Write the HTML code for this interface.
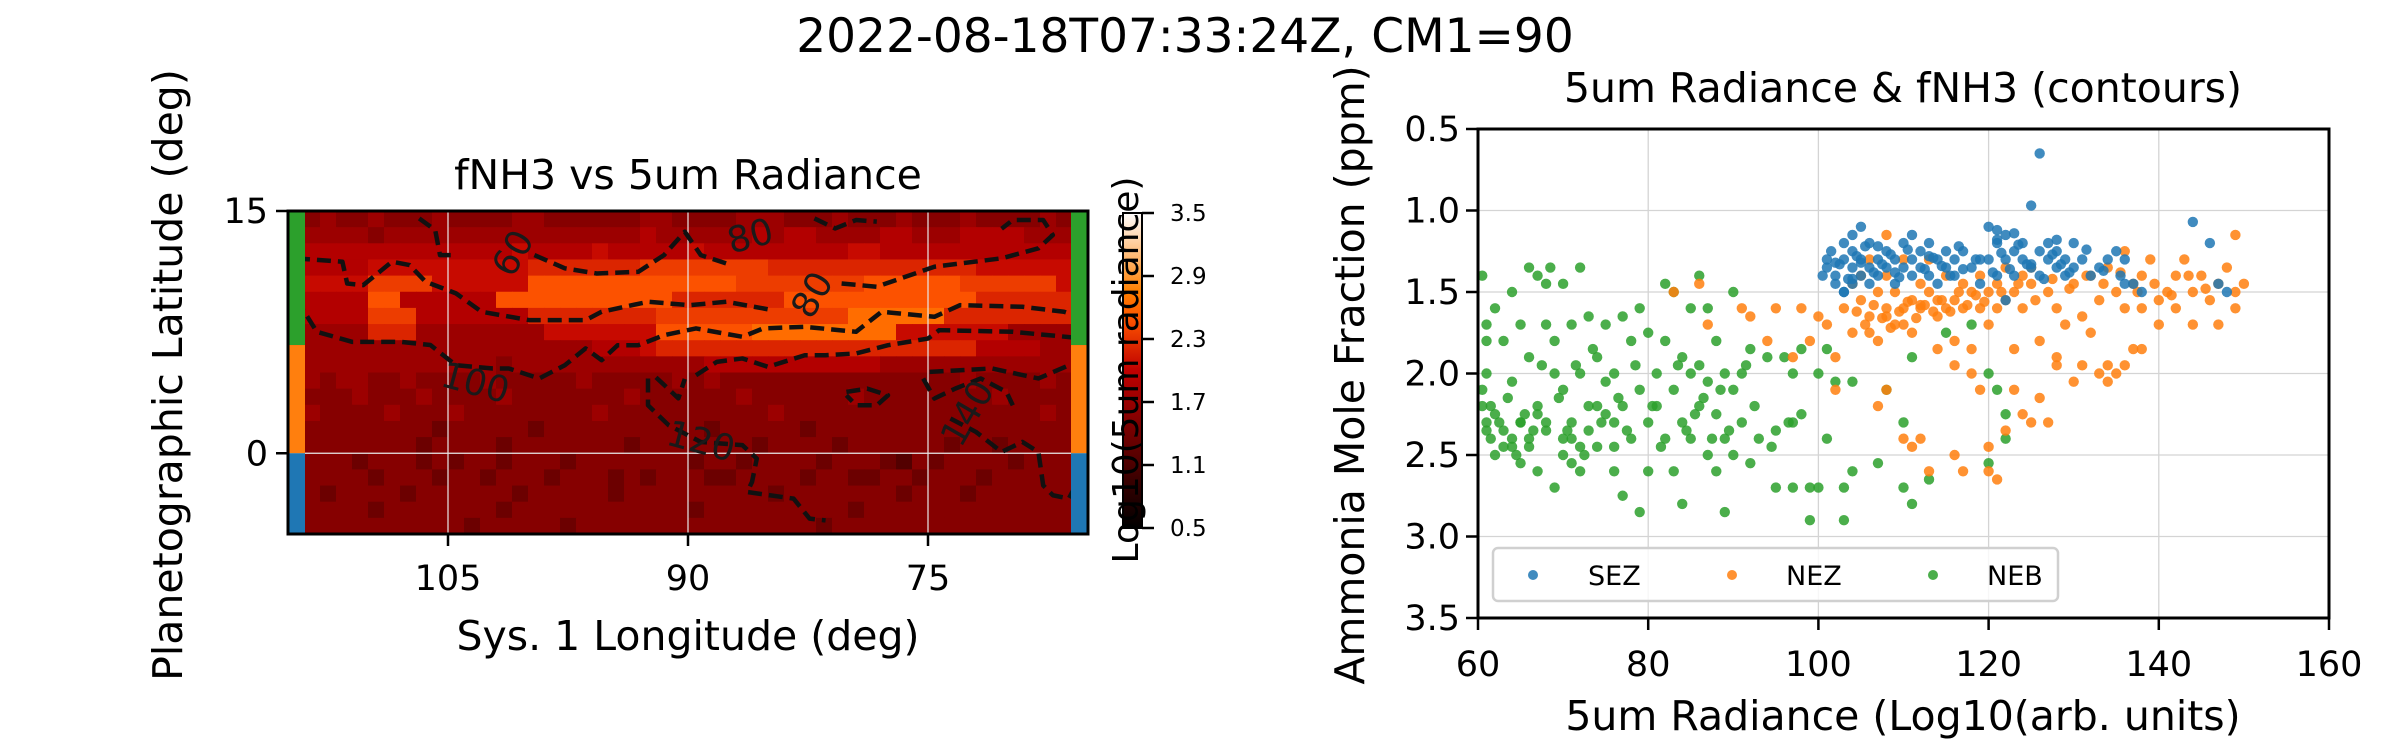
<!DOCTYPE html>
<html><head><meta charset="utf-8"><style>
html,body{margin:0;padding:0;background:#fff;}
svg{display:block;font-family:"DejaVu Sans","Liberation Sans",sans-serif;}
</style></head><body>
<svg id="fig" width="2400" height="750" viewBox="0 0 2400 750" xmlns="http://www.w3.org/2000/svg">
<text x="1185" y="52" font-size="47" text-anchor="middle">2022-08-18T07:33:24Z, CM1=90</text>
<g id="left"></g>
<g id="cbar"></g>
<g id="right"></g>
</svg>
<script>
// ---------- Heatmap data ----------
const lonStart = 115, lonEnd = 65, latTop = 15, latBottom = -5;
const heatRows = [
"22322322232222332222223322223332223222322232222322",
"33333233333333333333334333333434433334433344443333",
"44444444444444544445444445444444444554444444444444",
"44444555555555566666667777777766666666666665555555",
"55555777755555588888888888887777777788888877777755",
"44444884444448888888888866666668888888888886666666",
"44444777444444466666666777777777777999999666666664",
"33333666333333335555555888888999999999555555533333",
"33333333333333333334445666666666666666666664444333",
"33333333333332333333333333444444444443333333333333",
"33233223222232222232222232322222222222222232222322",
"22223222322223222222232222223222222322222222322222",
"23222232223222222223222222222232222222222222222322",
"22222222212222212222222222122222122222222222222222",
"22222222122221222222212222222122221222222122122222",
"22221222121221222122222221221222212221021222212222",
"12222122212212221222121222112222122112212221222222",
"22122221222222122222122222222212222222122212222222",
"22222122222221222222222221222222222122222222222222",
"22222222222122222122222222222222212222222222222222"
];
const levelValues = [1.15,1.35,1.55,1.72,1.9,2.06,2.22,2.36,2.48,2.64];
const cbarTicks = ["0.5","1.1","1.7","2.3","2.9","3.5"];
const lonTicks = [105, 90, 75];
const latTicks = [0, 15];
const zoneBands = [["NEB",6.7,15,"#2ca02c"],["NEZ",0,6.7,"#ff7f0e"],["SEZ",-5,0,"#1f77b4"]];
const contourLines = [
 [[114.5,12.07],[111.6,11.86],[111.3,10.51],[110.3,10.41],[108.5,11.86],[107.4,11.65],[106.4,10.62],[104.5,9.9],[102.9,8.76],[99.9,8.24],[96.4,8.24],[95.4,8.76],[92.5,9.38],[89.9,9.17],[87.6,9.38],[84.7,8.86]],
 [[80.4,10.51],[78.2,10.31],[74.6,11.55],[70.4,12.07],[68.1,12.69],[67.2,13.51],[67.8,14.44],[69.7,14.44],[70.4,13.9]],
 [[106.8,14.54],[105.8,13.82],[105.5,12.27],[104.6,12.27]],
 [[99.6,12.27],[97.7,11.45],[95.7,11.13],[93.1,11.24],[91.5,12.27],[90.2,13.72],[89.2,12.27],[87.3,11.65]],
 [[82.1,14.54],[80.8,13.92],[79.5,14.44],[78.2,14.34]],
 [[114.5,9.58],[113.2,7.52],[111.0,6.9],[108.0,6.9],[106.1,6.7],[104.5,5.45],[102.2,5.25],[101.2,5.25],[99.3,4.63],[97.7,5.45],[96.4,6.49],[95.4,5.76],[94.4,6.69],[93.1,6.69],[91.5,7.31],[89.5,7.73],[86.6,7.21],[85.3,7.73],[82.7,7.83],[79.5,7.52],[77.9,8.76],[74.6,8.45],[73.0,9.17],[69.1,9.07],[66.5,8.76],[65.2,8.35]],
 [[89.5,4.83],[88.2,5.66],[86.6,5.87],[85.0,5.35],[82.7,6.07],[81.4,6.07],[79.5,6.18],[77.5,6.69],[75.0,7.1],[74.3,7.62],[69.7,7.52],[65.2,7.1]],
 [[92.5,4.63],[92.5,2.97],[91.2,1.73],[89.2,0.7],[86.6,0.5],[85.7,-0.33],[86.0,-1.78],[86.3,-2.4],[83.4,-2.81],[82.4,-4.05],[81.4,-4.16]],
 [[92.0,4.7],[90.6,3.4],[90.2,4.6]],
 [[75.3,4.63],[74.6,3.39],[73.3,4.0],[71.7,4.63],[70.1,3.8],[69.7,2.97]],
 [[74.9,5.04],[71.0,5.25],[68.1,4.63],[65.2,5.87]],
 [[73.6,2.15],[72.0,1.32],[70.4,0.08],[69.1,0.7],[68.1,0.08],[67.8,-1.99],[67.2,-2.6],[66.2,-2.81],[65.2,-0.95]],
 [[80.1,3.8],[78.8,4.0],[77.5,3.59],[78.2,2.97],[79.5,2.97],[80.1,3.59]],
 [[114.4,4.83],[114.5,2.77]]
];
const contourLabels = [["60",100.9,12.37,-60],["80",86.1,13.41,-15],["80",82.2,9.79,-60],["100",103.3,4.32,15],["120",89.2,0.7,15],["140",72.5,2.46,-60]];

// ---------- Scatter data ----------
const sezX=[101,101,102,102,103,103,103,104,104,104,105,105,105,106,106,106,107,107,108,108,109,109,110,110,111,111,111,112,112,113,113,114,114,115,115,116,116,117,118,119,119,120,120,121,121,122,122,123,123,124,124,125,125,126,126,126,127,127,128,128,129,129,130,130,131,132,133,134,135,136,136,137,138,144,146,147,148,102,104,107,109,113,117,121,125,100.5,101.5,102.5,103.5,104.5,105.5,106.5,107.5,108.5,109.5,110.5,112.5,113.5,114.5,115.5,116.5,118.5,120.5,121.5,122.5,123.5,124.5,126.5,127.5,128.5,129.5,131.5,133.5,135.5,105,104,103,122,121,123,128];
const sezY=[1.35,1.3,1.4,1.45,1.3,1.5,1.2,1.35,1.15,1.25,1.4,1.3,1.1,1.35,1.45,1.2,1.3,1.4,1.25,1.35,1.45,1.3,1.2,1.35,1.3,1.4,1.15,1.25,1.35,1.4,1.2,1.3,1.45,1.25,1.35,1.3,1.4,1.25,1.35,1.3,1.45,1.1,1.3,1.2,1.4,1.15,1.3,1.25,1.4,1.3,1.2,1.35,0.97,0.65,1.25,1.4,1.3,1.2,1.35,1.25,1.4,1.3,1.2,1.35,1.3,1.4,1.35,1.3,1.25,1.45,1.3,1.45,1.5,1.07,1.2,1.45,1.5,1.32,1.42,1.22,1.38,1.28,1.36,1.18,1.33,1.4,1.25,1.33,1.42,1.28,1.22,1.38,1.33,1.27,1.41,1.24,1.36,1.29,1.34,1.4,1.22,1.3,1.38,1.26,1.36,1.21,1.33,1.42,1.27,1.33,1.38,1.24,1.37,1.4,1.32,1.45,1.5,1.55,1.12,1.14,1.18,1.14];
const nezX=[83,86,87,91,92,94,95,97,98,99,100,101,102,103,104,104,105,105,106,106,107,107,108,108,108,109,109,110,110,111,111,112,112,113,113,114,114,115,115,116,116,117,117,118,118,119,119,120,120,121,121,122,122,123,123,124,124,125,125,126,127,128,128,129,130,131,132,132,133,134,134,135,135,136,136,137,137,138,138,139,140,140,141,142,142,143,144,144,145,146,147,147,148,149,149,150,149,107,108,110,111,112,113,116,117,119,120,120,121,122,123,124,125,126,127,128,130,131,133,134,136,138,116,118,114,104.5,105.5,106.5,107.5,108.5,109.5,110.5,111.5,112.5,113.5,114.5,115.5,116.5,117.5,118.5,119.5,121.5,123.5,125.5,127.5,129.5,131.5,133.5,135.5,137.5,139.5,141.5,143.5,145.5,102,106,108,110,112];
const nezY=[1.5,1.45,1.7,1.6,1.65,1.8,1.6,1.9,1.6,1.8,1.65,1.7,1.9,1.6,1.45,1.75,1.55,1.4,1.65,1.3,1.5,1.8,1.6,1.15,1.4,1.7,1.5,1.6,1.3,1.55,1.75,1.45,1.6,1.5,1.3,1.65,1.55,1.4,1.6,1.55,1.8,1.45,1.6,1.5,1.85,1.4,1.6,1.5,1.7,1.45,1.6,1.35,1.55,1.5,1.85,1.4,1.6,1.45,1.35,1.8,1.5,1.6,1.9,1.7,1.45,1.65,1.75,1.4,1.55,1.35,1.95,1.5,2.0,1.6,1.25,1.45,1.85,1.4,1.6,1.3,1.55,1.7,1.5,1.4,1.6,1.3,1.5,1.7,1.4,1.55,1.45,1.7,1.35,1.5,1.15,1.45,1.6,2.2,2.1,2.4,2.45,2.4,2.6,2.5,2.6,2.1,2.45,2.6,2.65,2.35,2.1,2.25,2.3,2.15,2.3,1.95,2.05,1.95,2.0,2.05,1.95,1.85,1.95,2.0,1.85,1.62,1.7,1.58,1.66,1.72,1.62,1.56,1.66,1.58,1.62,1.55,1.62,1.5,1.58,1.52,1.56,1.5,1.45,1.55,1.42,1.48,1.4,1.45,1.38,1.5,1.45,1.52,1.4,1.48,2.1,1.75,1.65,1.7,1.58];
const nebX=[60.5,61,61,61,60.5,61,61.5,62,61,62,63,63,64,64,64,65,65,65,66,66,66,67,67,67,68,68,68,68.5,69,69,69,70,70,70,71,71,71,72,72,72,72,73,73,74,74,75,75,75,76,76,76,77,77,77,78,78,79,79,79,80,80,80,81,81,82,82,82,83,83,83,84,84,84,85,85,85,86,86,86,87,87,87,88,88,88,89,89,89,90,90,90,91,91,92,92,93,94,95,95,96,97,97,97,98,98,99,99,100,100,101,101,102,103,103,104,104,107,108,110,110,111,111,113,115,118,120,120,121,122,122,62,63,64,65,66,67,68,70,71,73,74,76,60.5,61.5,62.5,63.5,64.5,65.5,66.5,67.5,69.5,70.5,71.5,72.5,73.5,74.5,76.5,77.5,78.5,80.5,81.5,83.5,84.5,85.5,86.5,87.5,88.5,89.5,91.5,92.5,94.5,96.5];
const nebY=[1.4,1.7,1.8,2.0,2.1,2.3,2.2,2.5,2.35,1.6,1.8,2.45,2.45,2.05,1.5,1.7,2.3,2.55,1.35,1.9,2.4,2.2,1.4,2.6,1.45,1.7,2.35,1.35,1.8,2.7,2.0,1.45,2.1,2.4,2.55,1.7,2.3,1.35,2.0,2.6,2.45,1.65,2.2,1.9,2.45,2.05,1.7,2.25,2.45,2.0,2.6,1.65,2.2,2.75,2.4,1.8,1.6,2.1,2.85,2.3,1.75,2.6,2.0,2.2,1.45,1.8,2.4,2.1,1.5,2.6,1.9,2.3,2.8,2.0,1.6,2.4,1.4,1.95,2.2,1.6,2.5,2.05,2.25,1.8,2.6,2.4,2.85,2.0,2.1,1.5,2.5,2.3,2.0,2.55,1.85,2.4,1.9,2.7,2.35,1.9,2.3,2.0,2.7,2.25,1.85,2.9,2.7,2.0,2.7,1.85,2.4,2.05,2.7,2.9,2.6,2.05,2.55,2.1,2.3,2.7,2.8,1.9,2.65,1.75,1.7,2.0,2.55,2.1,2.4,2.25,2.25,2.35,2.4,2.3,2.45,2.25,2.3,2.5,2.4,2.35,2.2,2.3,2.2,2.4,2.3,2.15,2.5,2.25,2.35,1.95,2.15,2.35,1.95,2.5,1.85,2.3,2.15,2.35,1.95,2.2,2.45,1.95,2.35,2.25,2.15,2.4,2.1,2.35,1.95,2.2,2.45,2.3];
const xTicks=[60,80,100,120,140,160];
const yTicks=[0.5,1.0,1.5,2.0,2.5,3.0,3.5];
const seriesNames=["SEZ","NEZ","NEB"];

const NS="http://www.w3.org/2000/svg";
function mk(tag, attrs, parent, txt){const e=document.createElementNS(NS,tag);for(const k in attrs)e.setAttribute(k,attrs[k]);if(txt!==undefined)e.textContent=txt;parent.appendChild(e);return e;}

// ---------- Left heatmap ----------
const L={x0:288,x1:1088,y0:211,y1:534};
function lx(lon){return L.x0+(lonStart-lon)/(lonStart-lonEnd)*(L.x1-L.x0);}
function ly(lat){return L.y0+(latTop-lat)/(latTop-latBottom)*(L.y1-L.y0);}
function heat(t){t=Math.max(0,Math.min(1,t));const r=Math.min(1,1.5*t),g=Math.max(0,Math.min(1,2*t-1)),b=Math.max(0,Math.min(1,4*t-3));return "rgb("+Math.round(r*255)+","+Math.round(g*255)+","+Math.round(b*255)+")";}
const left=document.getElementById('left');
const cellG=mk('g',{},left);


heatRows.forEach((row,ri)=>{
  for(let ci=0;ci<row.length;ci++){
    const v=levelValues[+row[ci]];
    const lonA=lonStart-ci, latA=latTop-ri;
    const x=lx(lonA), y=ly(latA), w=lx(lonA-1)-x, h=ly(latA-1)-y;
    const r=mk('rect',{x:x,y:y,width:w+0.6,height:h+0.6,fill:heat((v-0.5)/3)},cellG);
    
    
  }
});
lonTicks.forEach(t=>{const l=mk('line',{x1:lx(t),x2:lx(t),y1:L.y0,y2:L.y1,stroke:'#e8e8e8','stroke-width':1.2},left);

});
latTicks.forEach(t=>{const l=mk('line',{x1:L.x0,x2:L.x1,y1:ly(t),y2:ly(t),stroke:'#e8e8e8','stroke-width':1.2},left);

});
const contG=mk('g',{fill:'none',stroke:'#111','stroke-width':4.5,'stroke-dasharray':'14,7','stroke-linejoin':'round'},left);


contourLines.forEach(pts=>{const p=mk('polyline',{points:pts.map(q=>lx(q[0])+","+ly(q[1])).join(" ")},contG);

});
contourLabels.forEach(c=>{const x=lx(c[1]),y=ly(c[2]);const t=mk('text',{x:x,y:y,'font-size':36,fill:'#1a1a1a','text-anchor':'middle','dominant-baseline':'central',transform:'rotate('+c[3]+' '+x+' '+y+')'},left,c[0]);

});
zoneBands.forEach(b=>{[L.x0,L.x1-17].forEach(x=>{const r=mk('rect',{x:x,y:ly(b[2]),width:17,height:ly(b[1])-ly(b[2]),fill:b[3]},left);

});});
mk('rect',{x:L.x0,y:L.y0,width:L.x1-L.x0,height:L.y1-L.y0,fill:'none',stroke:'#000','stroke-width':3},left);
lonTicks.forEach(t=>{mk('line',{x1:lx(t),x2:lx(t),y1:L.y1,y2:L.y1+12,stroke:'#000','stroke-width':2.5},left);
const tx=mk('text',{x:lx(t),y:L.y1+56,'font-size':35,'text-anchor':'middle'},left,String(t));

});
latTicks.forEach(t=>{mk('line',{x1:L.x0-12,x2:L.x0,y1:ly(t),y2:ly(t),stroke:'#000','stroke-width':2.5},left);
const tx=mk('text',{x:L.x0-20,y:ly(t)+12,'font-size':35,'text-anchor':'end'},left,String(t));

});
let e;
e=mk('text',{x:688,y:189,'font-size':41,'text-anchor':'middle'},left,'fNH3 vs 5um Radiance');


e=mk('text',{x:688,y:650,'font-size':41,'text-anchor':'middle'},left,'Sys. 1 Longitude (deg)');


e=mk('text',{x:0,y:0,'font-size':41,'text-anchor':'middle',transform:'translate(182,375) rotate(-90)'},left,'Planetographic Latitude (deg)');



// ---------- Colorbar ----------
const cb=document.getElementById('cbar');
const C={x:1123,w:19,y0:213,y1:528};
const defs=mk('defs',{},cb);
const grad=mk('linearGradient',{id:'gh',x1:0,y1:1,x2:0,y2:0},defs);
for(let i=0;i<=20;i++)mk('stop',{offset:(i/20),'stop-color':heat(i/20)},grad);
e=mk('rect',{x:C.x,y:C.y0,width:C.w,height:C.y1-C.y0,fill:'url(#gh)',stroke:'#000','stroke-width':2},cb);


cbarTicks.forEach(s=>{const v=parseFloat(s);const y=C.y1-(v-0.5)/3*(C.y1-C.y0);
mk('line',{x1:C.x+C.w,x2:C.x+C.w+12,y1:y,y2:y,stroke:'#000','stroke-width':2.5},cb);
const t=mk('text',{x:1170,y:y+8,'font-size':23},cb,s);

});
e=mk('text',{x:0,y:0,'font-size':36,'text-anchor':'middle',transform:'translate(1138,370) rotate(-90)'},cb,'Log10(5um radiance)');



// ---------- Right scatter ----------
const R={x0:1478,x1:2329,y0:129,y1:618};
function sx(v){return R.x0+(v-60)/100*(R.x1-R.x0);}
function sy(v){return R.y0+(v-0.5)/3*(R.y1-R.y0);}
const right=document.getElementById('right');
xTicks.forEach(t=>{const l=mk('line',{x1:sx(t),x2:sx(t),y1:R.y0,y2:R.y1,stroke:'#d4d4d4','stroke-width':1.3},right);

});
yTicks.forEach(t=>{const l=mk('line',{x1:R.x0,x2:R.x1,y1:sy(t),y2:sy(t),stroke:'#d4d4d4','stroke-width':1.3},right);

});
const colors=["#1f77b4","#ff7f0e","#2ca02c"];
const allX=[sezX,nezX,nebX], allY=[sezY,nezY,nebY];
[2,1,0].forEach(si=>{const g=mk('g',{fill:colors[si],'fill-opacity':0.85},right);


allX[si].forEach((xv,i)=>{const c=mk('circle',{cx:sx(xv),cy:sy(allY[si][i]),r:5.2},g);

});});
mk('rect',{x:R.x0,y:R.y0,width:R.x1-R.x0,height:R.y1-R.y0,fill:'none',stroke:'#000','stroke-width':3},right);
xTicks.forEach(t=>{mk('line',{x1:sx(t),x2:sx(t),y1:R.y1,y2:R.y1+12,stroke:'#000','stroke-width':2.5},right);
const tx=mk('text',{x:sx(t),y:R.y1+58,'font-size':35,'text-anchor':'middle'},right,String(t));

});
yTicks.forEach(t=>{mk('line',{x1:R.x0-12,x2:R.x0,y1:sy(t),y2:sy(t),stroke:'#000','stroke-width':2.5},right);
const tx=mk('text',{x:R.x0-18,y:sy(t)+12,'font-size':35,'text-anchor':'end'},right,t.toFixed(1));

});
const lg=mk('g',{},right);


mk('rect',{x:1493,y:548,width:565,height:53,rx:5,fill:'#fff','fill-opacity':0.8,stroke:'#d0d0d0','stroke-width':2.5},lg);
const legDotX=[1533,1732,1933], legTxtX=[1588,1786,1987];
seriesNames.forEach((n,i)=>{const c=mk('circle',{cx:legDotX[i],cy:575,r:5,fill:colors[i],'fill-opacity':0.85},lg);


const t=mk('text',{x:legTxtX[i],y:585,'font-size':27},lg,n);

});
e=mk('text',{x:1903,y:102,'font-size':41,'text-anchor':'middle'},right,'5um Radiance & fNH3 (contours)');


e=mk('text',{x:1903,y:730,'font-size':41,'text-anchor':'middle'},right,'5um Radiance (Log10(arb. units)');


e=mk('text',{x:0,y:0,'font-size':41,'text-anchor':'middle',transform:'translate(1364,375) rotate(-90)'},right,'Ammonia Mole Fraction (ppm)');


</script>
</body></html>
